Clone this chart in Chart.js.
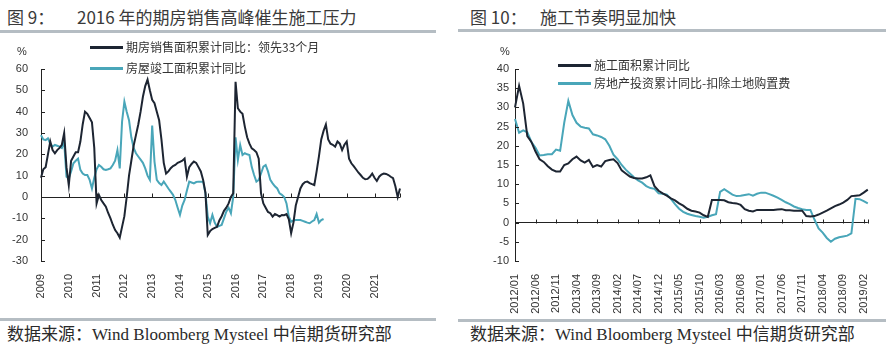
<!DOCTYPE html>
<html>
<head>
<meta charset="utf-8">
<script src="https://cdn.jsdelivr.net/npm/chart.js@4.4.1/dist/chart.umd.min.js"></script>
<style>
  body { margin: 0; width: 886px; height: 351px; background: #fff; position: relative; overflow: hidden;
         font-family: "Noto Sans CJK SC", sans-serif; color: #333; }
  .abs { position: absolute; white-space: nowrap; }
  .title { top: 5px; font-size: 17px; line-height: 24px; color: #3a3a3a; }
  .bar { background: #b5bdc3; height: 3px; }
  .src { top: 324px; font-size: 17px; line-height: 22px; color: #2a2a2a;
         font-family: "Liberation Serif", "Noto Sans CJK SC", serif; }
  .unit { font-size: 11px; font-family: "Liberation Sans", sans-serif; }
  .leg { font-size: 12px; line-height: 16px; }
  .leg i { display: inline-block; width: 33px; height: 2.5px; vertical-align: middle; margin-right: 3px; margin-top: -2px; }
  canvas { position: absolute; top: 36px; }
</style>
</head>
<body>
<canvas id="leftChart" width="443" height="282" style="left:0"></canvas>
<canvas id="rightChart" width="443" height="282" style="left:443px"></canvas>

<div class="abs title" style="left:7px">图 9：</div>
<div class="abs title" style="left:77px">2016 年的期房销售高峰催生施工压力</div>
<div class="abs title" style="left:470px">图 10：</div>
<div class="abs title" style="left:540px">施工节奏明显加快</div>
<div class="abs bar" style="left:0; top:30px; width:436px"></div>
<div class="abs bar" style="left:458px; top:29px; width:428px"></div>

<div class="abs unit" style="left:17px; top:45px">%</div>
<div class="abs unit" style="left:500px; top:45px">%</div>

<div class="abs leg" style="left:90px; top:39px"><i style="background:#1d2532"></i>期房销售面积累计同比：领先33个月</div>
<div class="abs leg" style="left:90px; top:60px"><i style="background:#49a6b9"></i>房屋竣工面积累计同比</div>
<div class="abs leg" style="left:558px; top:57px"><i style="background:#1d2532"></i>施工面积累计同比</div>
<div class="abs leg" style="left:558px; top:75px"><i style="background:#49a6b9"></i>房地产投资累计同比-扣除土地购置费</div>

<div class="abs bar" style="left:0; top:318px; width:436px"></div>
<div class="abs bar" style="left:458px; top:319px; width:428px"></div>
<div class="abs src" style="left:7px">数据来源：Wind Bloomberg Mysteel 中信期货研究部</div>
<div class="abs src" style="left:470px">数据来源：Wind Bloomberg Mysteel 中信期货研究部</div>

<script>
// Zeitachsen-Beschriftungen
const leftYearLabels = ['2009', '2010', '2011', '2012', '2013', '2014', '2015', '2016', '2017', '2018', '2019', '2020', '2021'];
const rightTickLabels = ['2012/01', '2012/06', '2012/11', '2013/04', '2013/09', '2014/02', '2014/07', '2014/12',
    '2015/05', '2015/10', '2016/03', '2016/08', '2017/01', '2017/06', '2017/11', '2018/04', '2018/09', '2019/02'];

// Monatskategorien (links 2009/01-2021/12, rechts 2012/01-2019/03)
const leftMonths = [];
for (let y = 2009; y <= 2021; y++) for (let m = 1; m <= 12; m++) leftMonths.push(y + '/' + String(m).padStart(2, '0'));
const rightMonths = [];
for (let y = 2012; y <= 2019; y++) for (let m = 1; m <= 12; m++) {
    if (y === 2019 && m > 3) break;
    rightMonths.push(y + '/' + String(m).padStart(2, '0'));
}

// 期房销售面积累计同比：领先33个月
const salesLead = [
    9, 13, 14, 20, 26, 22, 20.5, 22, 23, 24.5, 30, 14,
    5.5, 17, 19, 21, 21, 26, 34, 40, 39, 37, 35, 23,
    -3, 1, -1.4, -3, -4.5, -7.5, -10, -13, -15.5, -17, -19, -14,
    -9, 0, 10, 17, 24, 29, 34, 40, 47, 52, 55, 50,
    45.5, 44, 40, 36, 27, 16, 11, 12, 13.5, 14.5, 15, 16,
    16.5, 17, 18, 9.5, 14, 15.5, 16.6, 16, 14, 12, 8, 2,
    -17.8, -16, -15, -14.5, -14, -11, -9, -6.5, -5, -3, 0, 1.7,
    54, 41.6, 40, 39, 33, 28, 25, 22.8, 22, 21, 18, 1.7,
    -3, -5, -7, -7.6, -9.2, -8, -8.5, -9.2, -8.4, -8.5, -8, -10.5,
    -17, -12, -4, 0, 4, 6, 7, 7.2, 6.5, 6, 5.6, 12,
    19, 27, 31, 34, 27, 25, 24.5, 23.6, 26, 25, 22, 24.5,
    26, 18, 15.8, 14.5, 13, 11.5, 10.3, 9, 8.3, 8.5, 9.5, 11,
    9, 7.5, 9.5, 10.5, 11, 10.8, 10.3, 9.5, 8.8, 5, 0, 4
];

// 房屋竣工面积累计同比
const completion = [
    29, 27, 26.7, 27.5, 25, 23.6, 24.4, 24, 23.6, 23, 26, 9.5,
    8.8, 12, 15.8, 17, 18, 12.7, 11, 10.3, 10.3, 8, 4, 9,
    13, 15, 14.2, 13, 12.7, 13, 13.4, 15, 17, 22, 13.4, 35.3,
    44.7, 40, 36, 28, 23, 20.5, 19, 17.5, 16, 13.4, 10, 8,
    33.5, 16.6, 8, 6.5, 5.6, 7.2, 5.6, 4, 2.5, 1, -1.4, -5,
    -8.4, -4, -1.4, 3, 7.2, 6.8, 6.4, 7, 7.2, 7.2, 7.2, 1.7,
    -9.2, -12.3, -8.4, -12, -14, -13.5, -13.1, -10, -6.9, -5, -7.6, 0,
    28, 17.3, 24.4, 19.7, 20.5, 20, 19.7, 14, 10.3, 7.2, 8, 11,
    14.2, 15, 12, 8, 6.4, 5, 4, 1.7, 1, 0, -3, -9.2,
    -11.6, -11, -10.8, -10.8, -10.8, -11.2, -11.6, -12, -12.3, -11.5, -10.8, -8,
    -12, -10.8, -10.3
];

// 施工面积累计同比
const constructionArea = [
    30, 35.6, 31, 22.5, 21, 18.5, 16.5, 15.8, 14.7, 13.8, 13.3, 13.3,
    15, 15.4, 16.5, 17.2, 16.2, 15.6, 16.3, 14.5, 15, 14.6, 16, 16.3,
    16.5, 15.5, 13.6, 12.8, 12, 11.6, 11.5, 11.5, 11.8, 12.3, 9.5, 8.3,
    7.6, 7, 6.3, 5.8, 5, 4.4, 3.6, 3.1, 2.9, 2.6, 1.9, 1.5,
    5.9, 5.9, 5.9, 5.8, 5.3, 5.1, 5, 4.6, 3.5, 3.1, 2.9, 3.3,
    3.3, 3.3, 3.3, 3.3, 3.4, 3.5, 3.2, 3.2, 3.1, 3.1, 3.1, 1.7,
    1.6, 1.7, 2.1, 2.6, 3.1, 3.7, 4.3, 4.7, 5.2, 5.9, 6.9, 7,
    7.1, 7.8, 8.6
];

// 房地产投资累计同比-扣除土地购置费
const investmentExLand = [
    27, 23.4, 24, 23.5, 21, 19.5, 17.5, 17.6, 17.8, 17.8, 19, 18.7,
    26, 31.7, 28, 26, 25, 24.7, 24.5, 23, 22.7, 22.3, 21.7, 20,
    17.7, 16.5, 15, 13.8, 12.8, 11.8, 11, 10.4, 9.5, 9, 8.8, 7.6,
    7.5, 7.3, 6.2, 4.8, 3.6, 2.8, 2.3, 2, 1.7, 1.5, 1.3, 1.5,
    1.9, 2.2, 8, 8.7, 8, 7.3, 6.9, 7, 7.2, 7.4, 7, 7.5,
    7.8, 7.8, 7.4, 7, 6.5, 5.9, 5.3, 4.8, 4.2, 3.8, 3.5, 3.3,
    3.3, 0.8, -1.5, -2.6, -4, -5, -4.2, -3.8, -3.6, -3.4, -2.8, 6.2,
    6.1, 5.6, 5
];

const DARK = '#1d2532';
const TEAL = '#49a6b9';
const tickFont = { family: 'Liberation Sans, Noto Sans CJK SC', size: 11 };

// Kleine Striche: x-Ticks nach oben auf der Nulllinie, y-Ticks nach innen
const axisMarks = {
    id: 'axisMarks',
    afterDatasetsDraw(chart, args, opts) {
        const { ctx, chartArea, scales: { x, y } } = chart;
        const y0 = Math.round(y.getPixelForValue(0)) + 0.5;
        ctx.save();
        ctx.strokeStyle = '#222';
        ctx.lineWidth = 1;
        ctx.beginPath();
        opts.xIdx.forEach(i => {
            const px = Math.round(x.getPixelForValue(i)) + 0.5;
            ctx.moveTo(px, y0);
            ctx.lineTo(px, y0 - 4);
        });
        y.ticks.forEach(t => {
            const py = Math.round(y.getPixelForValue(t.value)) + 0.5;
            ctx.moveTo(chartArea.left, py);
            ctx.lineTo(chartArea.left + 4, py);
        });
        ctx.stroke();
        ctx.restore();
    }
};

function makeChart(id, cfg) {
    return new Chart(document.getElementById(id), {
        type: 'line',
        data: {
            labels: cfg.labels,
            datasets: cfg.series.map(s => ({
                data: s.data,
                borderColor: s.color,
                borderWidth: 2,
                pointRadius: 0,
                tension: 0,
                fill: false
            }))
        },
        options: {
            responsive: false,
            animation: false,
            layout: { padding: { left: 0, right: cfg.padRight, top: 33, bottom: 0 } },
            plugins: { legend: { display: false }, tooltip: { enabled: false }, axisMarks: { xIdx: cfg.xIdx } },
            scales: {
                x: {
                    grid: { display: false },
                    border: { display: false },
                    ticks: {
                        autoSkip: false,
                        minRotation: 90,
                        maxRotation: 90,
                        padding: 5,
                        color: '#333',
                        font: tickFont,
                        callback: cfg.xLabel
                    },
                    afterFit: s => { s.height = 57; }
                },
                y: {
                    min: cfg.min,
                    max: cfg.max,
                    ticks: { stepSize: cfg.step, color: '#333', font: tickFont, padding: cfg.yPad },
                    grid: {
                        drawTicks: false,
                        color: c => (c.tick && c.tick.value === 0) ? '#222' : 'rgba(0,0,0,0)',
                        lineWidth: 1
                    },
                    border: { display: true, color: '#222', width: 1 },
                    afterFit: s => { s.width = cfg.yWidth; }
                }
            }
        },
        plugins: [axisMarks]
    });
}

const leftTickIdx = leftYearLabels.map((_, i) => i * 12).concat([leftMonths.length - 1]);
const rightTickIdx = rightTickLabels.map((_, i) => i * 5).concat([rightMonths.length - 1]);

makeChart('leftChart', {
    labels: leftMonths,
    series: [{ data: salesLead, color: DARK }, { data: completion, color: TEAL }],
    min: -30, max: 60, step: 10,
    yWidth: 41, yPad: 13, padRight: 43,
    xIdx: leftTickIdx,
    xLabel: (v, i) => (i % 12 === 0 ? leftYearLabels[i / 12] : '')
});

makeChart('rightChart', {
    labels: rightMonths,
    series: [{ data: constructionArea, color: DARK }, { data: investmentExLand, color: TEAL }],
    min: -10, max: 40, step: 5,
    yWidth: 72, yPad: 6, padRight: 11,
    xIdx: rightTickIdx,
    xLabel: (v, i) => (i % 5 === 0 && rightTickLabels[i / 5] ? rightTickLabels[i / 5] : '')
});
</script>
</body>
</html>
